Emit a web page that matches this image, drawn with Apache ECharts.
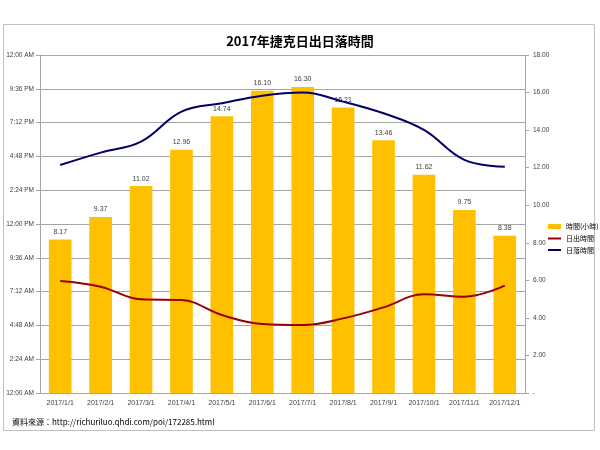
<!DOCTYPE html>
<html>
<head>
<meta charset="utf-8">
<script src="https://cdn.jsdelivr.net/npm/echarts@6/dist/echarts.min.js"></script>
<style>
html,body{margin:0;padding:0;background:#fff;}
#c{width:600px;height:450px;}
</style>
</head>
<body>
<div id="c"></div>
<script>
const categories = ['2017/1/1','2017/2/1','2017/3/1','2017/4/1','2017/5/1','2017/6/1','2017/7/1','2017/8/1','2017/9/1','2017/10/1','2017/11/1','2017/12/1'];
const dayLength = [8.17, 9.37, 11.02, 12.96, 14.74, 16.10, 16.30, 15.21, 13.46, 11.62, 9.75, 8.38];
const sunrise = [7.95, 7.55, 6.65, 6.60, 5.54, 4.90, 4.83, 5.30, 6.08, 7.01, 6.84, 7.62];
const sunset = [16.19, 17.07, 17.85, 19.98, 20.58, 21.11, 21.33, 20.69, 19.86, 18.68, 16.55, 16.07];
const seriesNames = ['時間(小時)', '日出時間', '日落時間'];
const titleText = '2017年捷克日出日落時間';
const sourceText = '資料來源：http://richuriluo.qhdi.com/poi/172285.html';

function timeLabel(v) {
  const total = Math.round(v * 60);
  const h = Math.floor(total / 60) % 24;
  const m = total % 60;
  const ap = h < 12 ? 'AM' : 'PM';
  const h12 = h % 12 === 0 ? 12 : h % 12;
  return h12 + ':' + (m < 10 ? '0' + m : m) + ' ' + ap;
}

const font = 'Liberation Sans, Arial, sans-serif';
const cjk = 'Noto Sans CJK TC, sans-serif';
const legendText = { fontSize: 7, color: '#000', fontFamily: cjk };
const chart = echarts.init(document.getElementById('c'));
chart.setOption({
  backgroundColor: '#fff',
  animation: false,
  title: [
    { text: titleText, left: 'center', top: 30,
      textStyle: { fontSize: 13, fontWeight: 'bold', color: '#000', fontFamily: cjk } },
    { text: sourceText, left: 7, top: 413,
      textStyle: { fontSize: 8, fontWeight: 'normal', color: '#000', fontFamily: cjk } }
  ],
  graphic: [
    { type: 'rect', shape: { x: 3.5, y: 24.5, width: 591, height: 406 },
      style: { fill: 'none', stroke: '#BFBFBF', lineWidth: 1 }, z: -1 }
  ],
  legend: [
    { orient: 'vertical', left: 543, top: 218, itemWidth: 13, itemHeight: 5,
      textStyle: legendText, data: [{ name: seriesNames[0], icon: 'rect' }] },
    { orient: 'vertical', left: 543, top: 230, itemWidth: 13, itemHeight: 2, itemGap: 4.5,
      textStyle: legendText,
      data: [{ name: seriesNames[1], icon: 'rect' }, { name: seriesNames[2], icon: 'rect' }] }
  ],
  grid: { left: 40, right: 75, top: 55, bottom: 57 },
  xAxis: {
    type: 'category', data: categories,
    axisLine: { lineStyle: { color: '#A6A6A6' } },
    axisTick: { show: false },
    axisLabel: { fontSize: 7, color: '#404040', margin: 7, fontFamily: font, interval: 0 }
  },
  yAxis: [
    { type: 'value', min: 0, max: 24, interval: 2.4, position: 'left',
      axisLine: { show: true, lineStyle: { color: '#A6A6A6' } },
      axisTick: { show: true, length: 4, lineStyle: { color: '#A6A6A6' } },
      splitLine: { show: true, lineStyle: { color: '#A6A6A6' } },
      axisLabel: { fontSize: 6.5, color: '#404040', margin: 6, fontFamily: font, formatter: timeLabel } },
    { type: 'value', min: 0, max: 18, interval: 2, position: 'right',
      axisLine: { show: true, lineStyle: { color: '#A6A6A6' } },
      axisTick: { show: true, length: 4, lineStyle: { color: '#A6A6A6' } },
      splitLine: { show: false },
      axisLabel: { fontSize: 6.5, color: '#404040', margin: 8, fontFamily: font,
        formatter: v => v === 0 ? '-' : v.toFixed(2) } }
  ],
  series: [
    { name: seriesNames[0], type: 'bar', yAxisIndex: 1, data: dayLength, barWidth: '56%',
      itemStyle: { color: '#FFC000' },
      label: { show: true, position: 'top', distance: 4, fontSize: 7, color: '#404040', fontFamily: font,
        formatter: p => p.value.toFixed(2) } },
    { name: seriesNames[1], type: 'line', yAxisIndex: 0, data: sunrise, smooth: 0.4, symbol: 'none',
      lineStyle: { color: '#990000', width: 2 }, itemStyle: { color: '#990000' } },
    { name: seriesNames[2], type: 'line', yAxisIndex: 0, data: sunset, smooth: 0.4, symbol: 'none',
      lineStyle: { color: '#000066', width: 2 }, itemStyle: { color: '#000066' } }
  ]
});
</script>
</body>
</html>
